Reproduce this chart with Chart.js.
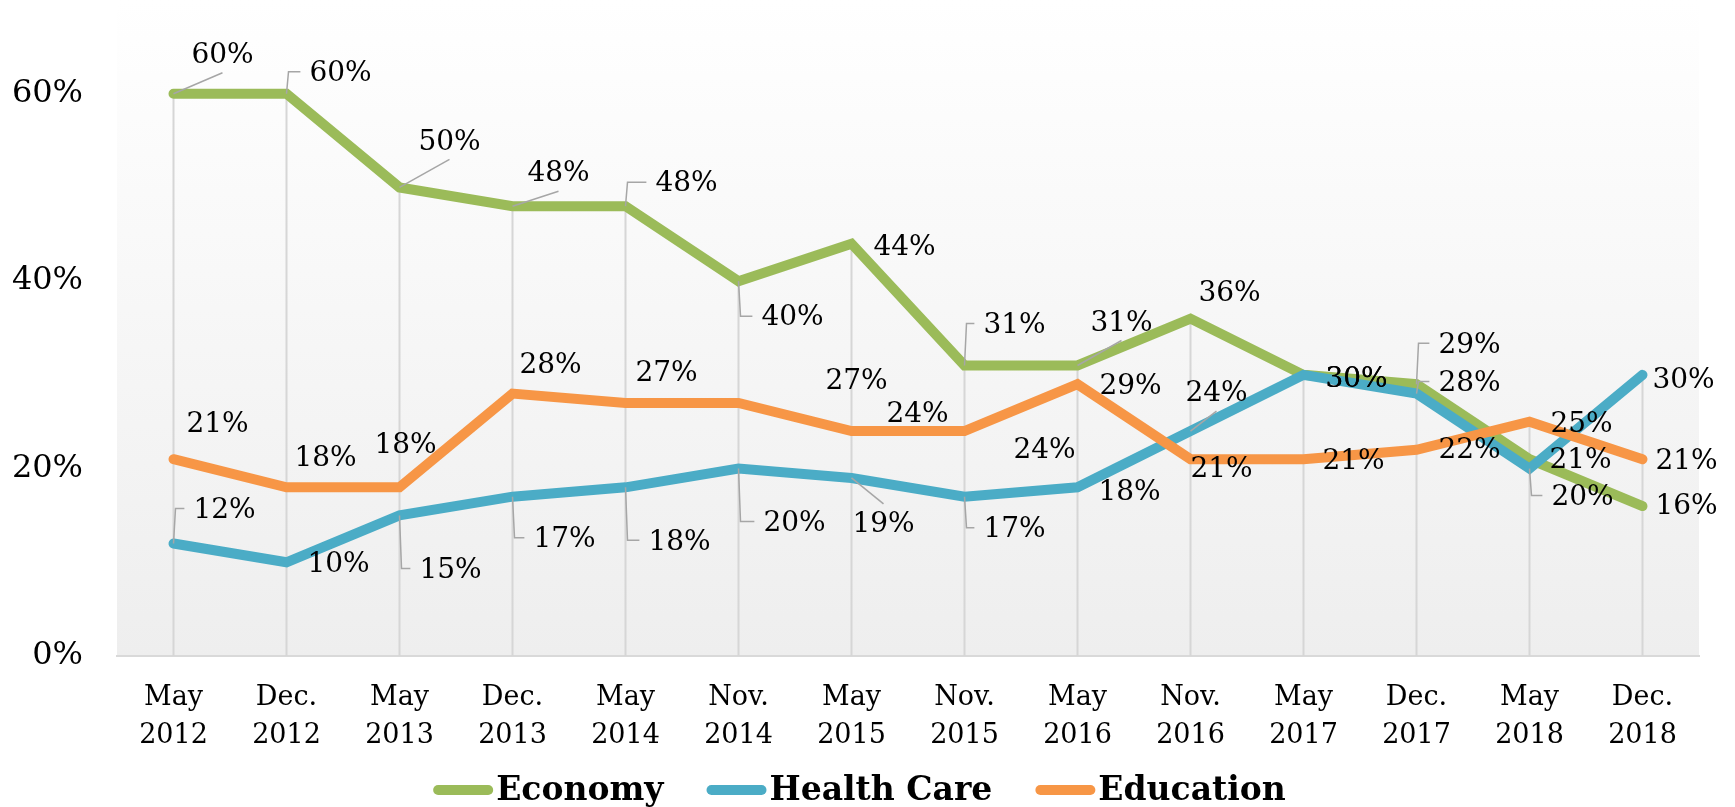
<!DOCTYPE html>
<html>
<head>
<meta charset="utf-8">
<script src="https://cdn.jsdelivr.net/npm/chart.js@4.4.1/dist/chart.umd.min.js"></script>
<style>
  html, body { margin: 0; padding: 0; background: #fff; }
  #wrap { width: 1735px; height: 807px; position: relative; }
</style>
</head>
<body>
<div id="wrap"><canvas id="issuesChart"></canvas></div>
<script>
const categories = [
    ['May', '2012'], ['Dec.', '2012'], ['May', '2013'], ['Dec.', '2013'],
    ['May', '2014'], ['Nov.', '2014'], ['May', '2015'], ['Nov.', '2015'],
    ['May', '2016'], ['Nov.', '2016'], ['May', '2017'], ['Dec.', '2017'],
    ['May', '2018'], ['Dec.', '2018']
];
const economy    = [60, 60, 50, 48, 48, 40, 44, 31, 31, 36, 30, 29, 21, 16];
const healthCare = [12, 10, 15, 17, 18, 20, 19, 17, 18, 24, 30, 28, 20, 30];
const education  = [21, 18, 18, 28, 27, 27, 24, 24, 29, 21, 21, 22, 25, 21];
const yTicks = [0, 20, 40, 60];

// label offsets from each point (px) and leader style: d = straight, e = elbow
const economyLabelPos = [
    [49, -40, 'd'], [54, -22, 'e'], [50, -47, 'd'], [46, -34, 'd'], [61, -24, 'e'],
    [54, 35, 'e'], [53, 2], [50, -42, 'e'], [44, -44, 'd'], [39, -27],
    [53, 3], [53, -41, 'e'], [51, 0], [44, -1]
];
const healthLabelPos = [
    [51, -35, 'e'], [52, 0], [51, 53, 'e'], [52, 41, 'e'], [54, 53, 'e'],
    [56, 53, 'e'], [32, 45, 'd'], [50, 31, 'e'], [52, 3], [26, -39, 'd'],
    [53, 3], [53, -12, 'e'], [53, 27, 'e'], [41, 4]
];
const educationLabelPos = [
    [44, -36], [39, -31], [6, -44], [38, -30], [41, -31], [118, -23], [66, -18],
    [80, 18], [53, 0], [31, 9], [50, 1], [53, -1], [52, 1], [44, 1]
];
const labelPositions = [economyLabelPos, healthLabelPos, educationLabelPos];

const serif = '"DejaVu Serif", Georgia, serif';

const plotBackground = {
    id: 'plotBackground',
    beforeDraw(chart) {
        const {ctx, chartArea} = chart;
        ctx.save();
        const grad = ctx.createLinearGradient(0, chartArea.top, 0, chartArea.bottom);
        grad.addColorStop(0, '#ffffff');
        grad.addColorStop(1, '#eeeeee');
        ctx.fillStyle = grad;
        ctx.fillRect(chartArea.left, chartArea.top, chartArea.right - chartArea.left, chartArea.bottom - chartArea.top);
        ctx.restore();
    }
};

// Excel style drop lines from the highest series down to the axis
const dropLines = {
    id: 'dropLines',
    beforeDatasetsDraw(chart) {
        const {ctx, chartArea, scales} = chart;
        ctx.save();
        ctx.strokeStyle = '#d6d6d6';
        ctx.lineWidth = 2;
        categories.forEach((c, i) => {
            const top = Math.max(...chart.data.datasets.map(ds => ds.data[i]));
            const x = scales.x.getPixelForValue(i);
            ctx.beginPath();
            ctx.moveTo(x, scales.y.getPixelForValue(top));
            ctx.lineTo(x, chartArea.bottom);
            ctx.stroke();
        });
        ctx.restore();
    }
};

const dataLabels = {
    id: 'dataLabels',
    afterDatasetsDraw(chart) {
        const ctx = chart.ctx;
        ctx.save();
        ctx.font = '28px ' + serif;
        ctx.textAlign = 'center';
        ctx.textBaseline = 'middle';
        chart.data.datasets.forEach((ds, di) => {
            const meta = chart.getDatasetMeta(di);
            meta.data.forEach((pt, i) => {
                const [dx, dy, leader] = labelPositions[di][i];
                const text = ds.data[i] + '%';
                const lx = pt.x + dx, ly = pt.y + dy;
                const w = ctx.measureText(text).width;
                ctx.strokeStyle = '#a6a6a6';
                ctx.lineWidth = 1.5;
                if (leader === 'd') {
                    ctx.beginPath();
                    ctx.moveTo(pt.x, pt.y);
                    ctx.lineTo(lx, ly + Math.sign(pt.y - ly) * 19);
                    ctx.stroke();
                } else if (leader === 'e') {
                    ctx.beginPath();
                    ctx.moveTo(pt.x, pt.y);
                    ctx.lineTo(pt.x + 2, ly);
                    ctx.lineTo(lx - w / 2 - 9, ly);
                    ctx.stroke();
                }
                ctx.fillStyle = '#000';
                ctx.fillText(text, lx, ly + 2);
            });
        });
        ctx.restore();
    }
};

// legend drawn below the axis: thick rounded line then bold name
const bottomLegend = {
    id: 'bottomLegend',
    afterDraw(chart) {
        const ctx = chart.ctx;
        ctx.save();
        ctx.font = 'bold 33px ' + serif;
        ctx.textAlign = 'left';
        ctx.textBaseline = 'middle';
        const items = chart.data.datasets.map(ds => ({
            text: ds.label, color: ds.borderColor, w: ctx.measureText(ds.label).width
        }));
        const lineLen = 60, textGap = 3, itemGap = 43;
        const total = items.reduce((s, it) => s + lineLen + textGap + it.w, 0) + itemGap * (items.length - 1);
        let x = chart.width / 2 - 8 - total / 2;
        const y = chart.height - 17;
        items.forEach(it => {
            ctx.strokeStyle = it.color;
            ctx.lineWidth = 10;
            ctx.lineCap = 'round';
            ctx.beginPath();
            ctx.moveTo(x + 5, y);
            ctx.lineTo(x + lineLen - 5, y);
            ctx.stroke();
            ctx.fillStyle = '#000';
            ctx.fillText(it.text, x + lineLen + textGap, y + 1);
            x += lineLen + textGap + it.w + itemGap;
        });
        ctx.restore();
    }
};

const ctx = document.getElementById('issuesChart').getContext('2d');
const issuesChart = new Chart(ctx, {
    type: 'line',
    data: {
        labels: categories,
        datasets: [{
            label: 'Economy',
            data: economy,
            borderColor: '#9bbb59',
            backgroundColor: '#9bbb59',
            order: 3
        }, {
            label: 'Health Care',
            data: healthCare,
            borderColor: '#4bacc6',
            backgroundColor: '#4bacc6',
            order: 2
        }, {
            label: 'Education',
            data: education,
            borderColor: '#f79646',
            backgroundColor: '#f79646',
            order: 1
        }]
    },
    options: {
        responsive: true,
        maintainAspectRatio: false,
        animation: false,
        elements: {
            line: { borderWidth: 10, tension: 0, borderCapStyle: 'round', borderJoinStyle: 'miter' },
            point: { radius: 0, hoverRadius: 0 }
        },
        layout: { padding: { left: 8, right: 36, top: 0, bottom: 51 } },
        scales: {
            x: {
                offset: true,
                grid: { display: false, drawTicks: false, offset: false },
                border: { display: true, color: '#d9d9d9', width: 2 },
                ticks: {
                    color: '#000',
                    padding: 23,
                    maxRotation: 0,
                    autoSkip: false,
                    font: { family: serif, size: 27, lineHeight: 1.4 }
                },
                afterFit(scale) {
                    scale.height = 100;
                    scale.paddingLeft = 0;
                    scale.paddingRight = 0;
                }
            },
            y: {
                min: 0,
                max: 70,
                grid: { display: false, drawTicks: false },
                border: { display: false },
                ticks: {
                    color: '#000',
                    padding: 34,
                    font: { family: serif, size: 32 },
                    callback: v => v + '%'
                },
                afterBuildTicks(scale) {
                    scale.ticks = yTicks.map(v => ({ value: v }));
                },
                afterFit(scale) {
                    scale.width = 109;
                    scale.paddingTop = 0;
                    scale.paddingBottom = 0;
                }
            }
        },
        plugins: {
            legend: { display: false },
            tooltip: { enabled: false }
        }
    },
    plugins: [plotBackground, dropLines, dataLabels, bottomLegend]
});
</script>
</body>
</html>
